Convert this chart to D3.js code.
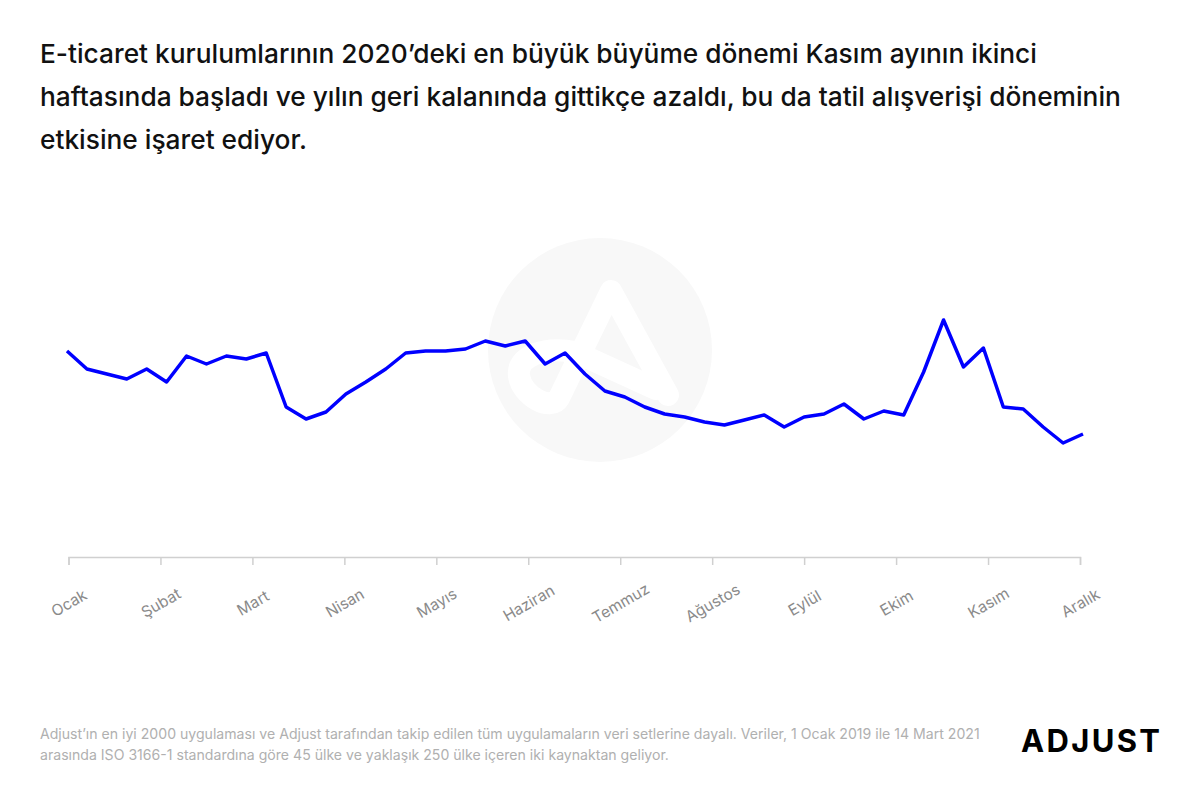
<!DOCTYPE html>
<html>
<head>
<meta charset="utf-8">
<script src="https://cdn.jsdelivr.net/npm/d3@7"></script>
<style>
  body { margin: 0; background: #fff; }
  svg { display: block; font-family: Inter, "Noto Sans", sans-serif; }
</style>
</head>
<body>
<div id="chart"></div>
<script>
var width = 1200;
var height = 799;

// weekly install index for 2020 (relative units)
var weeks = d3.range(1, 53);
var installs = [209, 191, 186, 181, 191, 178, 204, 196, 204, 201, 207, 153, 141,
                148, 166, 178, 191, 207, 209, 209, 211, 219, 214, 219, 196, 207,
                186, 169, 163, 153, 146, 143, 138, 135, 140, 145, 133, 143, 146,
                156, 141, 149, 145, 188, 240, 193, 212, 153, 151, 133, 117, 126];
var months = ["Ocak", "Şubat", "Mart", "Nisan", "Mayıs", "Haziran", "Temmuz",
              "Ağustos", "Eylül", "Ekim", "Kasım", "Aralık"];

var titleLines = [
  "E-ticaret kurulumlarının 2020’deki en büyük büyüme dönemi Kasım ayının ikinci",
  "haftasında başladı ve yılın geri kalanında gittikçe azaldı, bu da tatil alışverişi döneminin",
  "etkisine işaret ediyor."
];
var footLines = [
  "Adjust’ın en iyi 2000 uygulaması ve Adjust tarafından takip edilen tüm uygulamaların veri setlerine dayalı. Veriler, 1 Ocak 2019 ile 14 Mart 2021",
  "arasında ISO 3166-1 standardına göre 45 ülke ve yaklaşık 250 ülke içeren iki kaynaktan geliyor."
];

var svg = d3.select("#chart").append("svg")
    .attr("width", width)
    .attr("height", height);

// title
svg.append("g").selectAll("text")
    .data(titleLines)
    .enter()
    .append("text")
    .attr("x", 40)
    .attr("y", (d, i) => 63 + i * 43)
    .attr("font-size", 26.3)
    .attr("font-weight", 500)
    .attr("fill", "#111")
    .text(d => d);

// watermark
var wm = svg.append("g");
wm.append("circle")
    .attr("cx", 600)
    .attr("cy", 350)
    .attr("r", 112)
    .attr("fill", "#f8f8f8");
wm.append("path")
    .attr("d", "M668,395 L611,291 L559,398 C551,412 522,396 519,376 C516,356 545,346 575,352 L656,389")
    .attr("fill", "none")
    .attr("stroke", "#fff")
    .attr("stroke-width", 22)
    .attr("stroke-linejoin", "round")
    .attr("stroke-linecap", "round");

var x = d3.scaleLinear()
    .domain([1, 52])
    .range([67, 1083]);

var y = d3.scaleLinear()
    .domain([0, 260])
    .range([560, 300]);

var xMonth = d3.scalePoint()
    .domain(months)
    .range([68.5, 1080]);

// month axis
var axis = svg.append("g")
    .attr("transform", "translate(0,557)")
    .call(d3.axisBottom(xMonth).tickSize(8).tickSizeOuter(8).tickPadding(0));

axis.select(".domain").attr("stroke", "#d0d0d0").attr("stroke-width", 1.5);
axis.selectAll(".tick line").attr("stroke", "#d0d0d0").attr("stroke-width", 1.5);
axis.selectAll(".tick text")
    .attr("y", 0)
    .attr("dy", "0.35em")
    .attr("transform", "translate(0,46) rotate(-30)")
    .style("text-anchor", "middle")
    .attr("font-family", "Inter, 'Noto Sans', sans-serif")
    .attr("font-size", 15.5)
    .attr("fill", "#8a8a8a");

// line
var line = d3.line()
    .x((d, i) => x(weeks[i]))
    .y(d => y(d));

svg.append("path")
    .datum(installs)
    .attr("fill", "none")
    .attr("stroke", "#0000ff")
    .attr("stroke-width", 3.5)
    .attr("stroke-linejoin", "round")
    .attr("d", line);

// footer
svg.append("g").selectAll("text")
    .data(footLines)
    .enter()
    .append("text")
    .attr("x", 40)
    .attr("y", (d, i) => 739 + i * 21)
    .attr("font-size", 14.1)
    .attr("fill", "#b0b0b0")
    .text(d => d);

// logo
svg.append("text")
    .attr("x", 1021)
    .attr("y", 752)
    .attr("font-size", 31)
    .attr("font-weight", 700)
    .attr("fill", "#000")
    .attr("textLength", 139)
    .attr("lengthAdjust", "spacing")
    .text("ADJUST");
</script>
</body>
</html>
